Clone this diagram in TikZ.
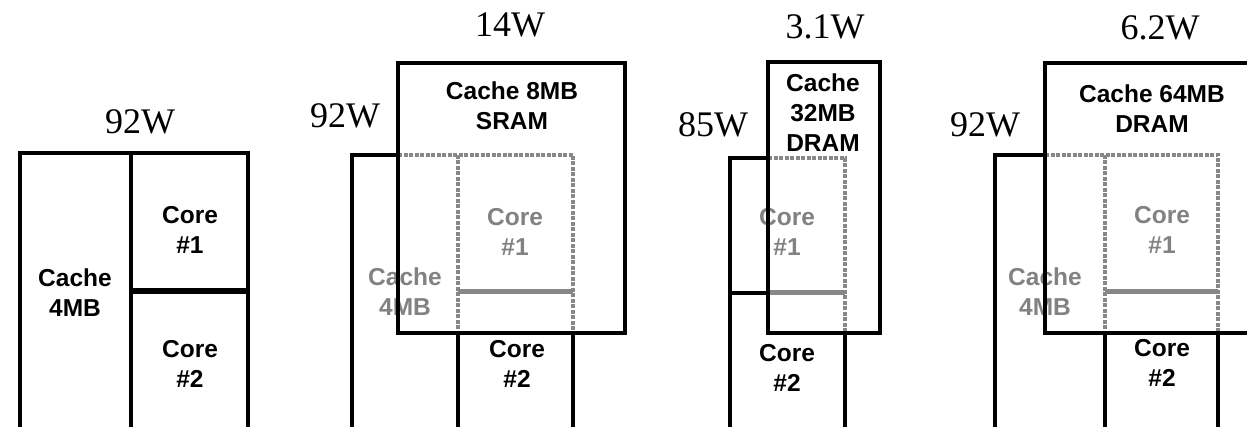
\documentclass[tikz,border=0pt]{standalone}
\usepackage{fontspec}
\setmainfont{Liberation Serif}
\setsansfont{Liberation Sans}
\definecolor{lgray}{RGB}{135,135,135}
\definecolor{tgray}{RGB}{130,130,130}
\tikzset{
  blk/.style={draw=black, line width=4.5pt, line cap=rect, line join=miter},
  gry/.style={draw=lgray, line width=4pt, dash pattern=on 4pt off 1.5pt},
  gryh/.style={draw=lgray, line width=5pt},
  watt/.style={font=\fontsize{36}{40}\selectfont\rmfamily, inner sep=0pt},
  lbl/.style={font=\fontsize{24.5}{30}\selectfont\sffamily\bfseries, align=center, inner sep=0pt},
  glbl/.style={lbl, text=tgray}
}
\begin{document}
\begin{tikzpicture}[x=1pt, y=-1pt]
\clip (0,0) rectangle (1247,427);
\fill[white] (0,0) rectangle (1247,427);

% ---------- Panel 1 ----------
\node[watt] (w1) at (140,122) {92W};
\node[lbl] (c1cache) at (75,293) {Cache\\4MB};
\node[lbl] (c1core1) at (190,230) {Core\\\#1};
\node[lbl] (c1core2) at (190,364) {Core\\\#2};
\draw[blk, line width=5.5pt, line cap=butt] (131,291) -- (248,291);
\draw[blk] (20,440) -- (20,153) -- (248,153) -- (248,440);
\draw[blk] (131,153) -- (131,440);

% ---------- Panel 2 ----------
\node[watt] (w2a) at (510,25) {14W};
\node[watt] (w2b) at (345,116) {92W};
\node[lbl] (c2sram) at (512,106) {Cache 8MB\\SRAM};
\node[glbl] (c2cache) at (405,292) {Cache\\4MB};
\node[glbl] (c2core1) at (515,232) {Core\\\#1};
\node[lbl] (c2core2) at (517,364) {Core\\\#2};
\draw[gry] (398,155) -- (573,155) -- (573,333);
\draw[gry] (458,155) -- (458,333);
\draw[gryh] (458,292) -- (573,292);
\draw[blk] (352,440) -- (352,155) -- (398,155);
\draw[blk] (458,333) -- (458,440);
\draw[blk] (573,333) -- (573,440);
\draw[blk] (398,63) rectangle (625,333);

% ---------- Panel 3 ----------
\node[watt] (w3a) at (825,27) {3.1W};
\node[watt] (w3b) at (713,125) {85W};
\node[lbl] (c3dram) at (823,113) {Cache\\32MB\\DRAM};
\node[glbl] (c3core1) at (787,232) {Core\\\#1};
\node[lbl] (c3core2) at (787,368) {Core\\\#2};
\draw[gry] (768,158) -- (845,158) -- (845,333);
\draw[gryh] (768,293) -- (845,293);
\draw[blk] (730,440) -- (730,158) -- (768,158);
\draw[blk] (730,293) -- (768,293);
\draw[blk] (845,333) -- (845,440);
\draw[blk] (768,62) rectangle (880,333);

% ---------- Panel 4 ----------
\node[watt] (w4a) at (1160,28) {6.2W};
\node[watt] (w4b) at (985,125) {92W};
\node[lbl] (c4dram) at (1152,109) {Cache 64MB\\DRAM};
\node[glbl] (c4cache) at (1045,292) {Cache\\4MB};
\node[glbl] (c4core1) at (1162,230) {Core\\\#1};
\node[lbl] (c4core2) at (1162,363) {Core\\\#2};
\draw[gry] (1045,155) -- (1218,155) -- (1218,333);
\draw[gry] (1105,155) -- (1105,333);
\draw[gryh] (1105,292) -- (1218,292);
\draw[blk] (995,440) -- (995,155) -- (1045,155);
\draw[blk] (1105,333) -- (1105,440);
\draw[blk] (1218,333) -- (1218,440);
\draw[blk] (1270,63) -- (1045,63) -- (1045,333) -- (1270,333);
\end{tikzpicture}
\end{document}
